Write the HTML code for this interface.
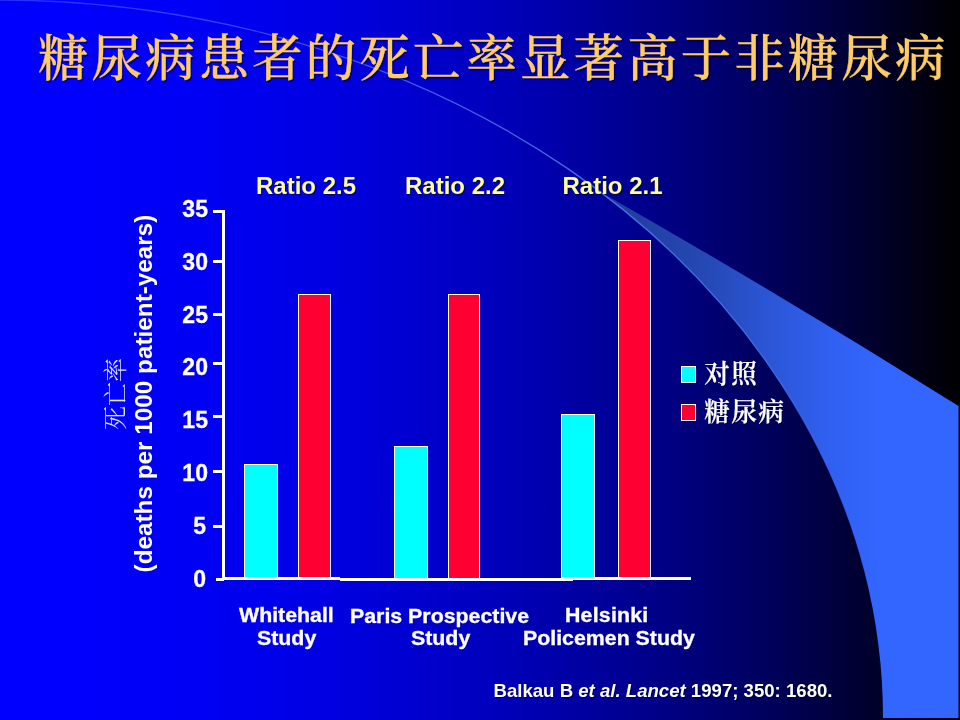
<!DOCTYPE html>
<html lang="zh">
<head>
<meta charset="utf-8">
<title>糖尿病患者的死亡率显著高于非糖尿病</title>
<style>
html,body{margin:0;padding:0;}
body{width:960px;height:720px;overflow:hidden;position:relative;background:#000;
  font-family:"Liberation Sans","Noto Sans CJK SC",sans-serif;}
#slide{position:absolute;left:0;top:0;width:960px;height:720px;overflow:hidden;
  background:linear-gradient(to right,rgb(0,0,255) 0.0%,rgb(0,0,255) 2.5%,rgb(0,0,254) 5.0%,rgb(0,0,254) 7.5%,rgb(0,0,252) 10.0%,rgb(0,0,251) 12.5%,rgb(0,0,249) 15.0%,rgb(0,0,247) 17.5%,rgb(0,0,245) 20.0%,rgb(0,0,242) 22.5%,rgb(0,0,239) 25.0%,rgb(0,0,236) 27.5%,rgb(0,0,232) 30.0%,rgb(0,0,228) 32.5%,rgb(0,0,224) 35.0%,rgb(0,0,219) 37.5%,rgb(0,0,214) 40.0%,rgb(0,0,209) 42.5%,rgb(0,0,203) 45.0%,rgb(0,0,197) 47.5%,rgb(0,0,191) 50.0%,rgb(0,0,185) 52.5%,rgb(0,0,178) 55.0%,rgb(0,0,171) 57.5%,rgb(0,0,163) 60.0%,rgb(0,0,155) 62.5%,rgb(0,0,147) 65.0%,rgb(0,0,139) 67.5%,rgb(0,0,130) 70.0%,rgb(0,0,121) 72.5%,rgb(0,0,112) 75.0%,rgb(0,0,102) 77.5%,rgb(0,0,92) 80.0%,rgb(0,0,81) 82.5%,rgb(0,0,71) 85.0%,rgb(0,0,60) 87.5%,rgb(0,0,48) 90.0%,rgb(0,0,37) 92.5%,rgb(0,0,25) 95.0%,rgb(0,0,13) 97.5%,rgb(0,0,0) 100.0%);}
#bg{position:absolute;left:0;top:0;}
.abs{position:absolute;white-space:nowrap;}
.w{font-weight:bold;color:#fff;-webkit-text-stroke:0.3px #fff;}
#title{left:38px;top:21px;width:920px;height:76px;line-height:76px;
  font-family:"Liberation Serif","Noto Serif CJK SC",serif;font-size:50.4px;letter-spacing:3.17px;
  color:#ffcc66;text-shadow:1.5px 1.5px 0 rgba(0,0,0,0.42);font-weight:500;-webkit-text-stroke:0.35px #ffcc66;}
.ratio{font-weight:bold;font-size:24px;color:#ffff99;text-shadow:1px 1px 0 rgba(0,0,0,0.45);line-height:28px;top:172px;}
.tick{font-weight:bold;font-size:24px;color:#fff;line-height:28px;width:60px;text-align:right;left:147.5px;transform-origin:100% 50%;transform:scaleX(0.96);-webkit-text-stroke:0.3px #fff;}
.bar{position:absolute;box-sizing:border-box;border:1px solid #fff;}
.c{background:#00ffff;}
.r{background:#ff0033;}
.leg{font-family:"Liberation Serif","Noto Serif CJK SC",serif;font-size:25.6px;letter-spacing:1.4px;color:#fff;line-height:30px;text-shadow:1px 1px 0 rgba(0,0,0,0.5);font-weight:600;-webkit-text-stroke:0.25px #fff;}
#cite{left:493.5px;top:678.6px;font-weight:bold;font-size:18.6px;color:#fff;text-shadow:1px 1px 0 rgba(0,0,0,0.6);line-height:24px;}
.rot{left:0;top:0;transform-origin:0 0;text-align:center;width:400px;}
</style>
</head>
<body>
<div id="slide">
<svg id="bg" width="960" height="720" viewBox="0 0 960 720">
  <defs>
    <linearGradient id="sw" gradientUnits="userSpaceOnUse" x1="600" y1="0" x2="880" y2="0">
      <stop offset="0" stop-color="#1e3c96"/>
      <stop offset="0.357" stop-color="#2447b2"/>
      <stop offset="0.643" stop-color="#2c58db"/>
      <stop offset="0.82" stop-color="#3060f0"/>
      <stop offset="1" stop-color="#3366ff"/>
    </linearGradient>
    <linearGradient id="ln" gradientUnits="userSpaceOnUse" x1="0" y1="0" x2="870" y2="0">
      <stop offset="0" stop-color="#7494ff" stop-opacity="0.3"/>
      <stop offset="0.35" stop-color="#7494ff" stop-opacity="0.5"/>
      <stop offset="0.7" stop-color="#5078e6" stop-opacity="0.9"/>
      <stop offset="0.9" stop-color="#4a78f8" stop-opacity="0.8"/>
      <stop offset="1" stop-color="#3366ff" stop-opacity="0"/>
    </linearGradient>
  </defs>
  <path d="M600,191.7 A885,718 0 0 1 883,718 L958.5,718 L958.5,406 Q779.25,293.8 600,191.7 Z" fill="url(#sw)"/>
  <path d="M-2,0 A885,718 0 0 1 870,595.4" fill="none" stroke="url(#ln)" stroke-width="1.3"/>
</svg>

<div id="title" class="abs">糖尿病患者的死亡率显著高于非糖尿病</div>

<div class="abs ratio" style="left:256px;">Ratio 2.5</div>
<div class="abs ratio" style="left:405px;">Ratio 2.2</div>
<div class="abs ratio" style="left:562.5px;">Ratio 2.1</div>

<div class="abs tick" style="top:195.08px;">35</div>
<div class="abs tick" style="top:247.88px;">30</div>
<div class="abs tick" style="top:300.68px;">25</div>
<div class="abs tick" style="top:353.48px;">20</div>
<div class="abs tick" style="top:406.28px;">15</div>
<div class="abs tick" style="top:459.08px;">10</div>
<div class="abs tick" style="top:511.88px;margin-left:-1.5px;">5</div>
<div class="abs tick" style="top:564.68px;margin-left:-1.5px;">0</div>

<svg class="abs" style="left:0;top:0;" width="960" height="720" viewBox="0 0 960 720" shape-rendering="crispEdges">
  <g fill="#fff">
    <rect x="222" y="210" width="3" height="370"/>
    <rect x="213" y="210" width="9" height="3"/>
    <rect x="213" y="260" width="9" height="3"/>
    <rect x="213" y="313" width="9" height="3"/>
    <rect x="213" y="362" width="9" height="3"/>
    <rect x="213" y="415" width="9" height="3"/>
    <rect x="213" y="470" width="9" height="3"/>
    <rect x="213" y="525" width="9" height="3"/>
    <rect x="216" y="578" width="8" height="3"/>
    <rect x="222" y="577" width="118" height="3"/>
    <rect x="340" y="578" width="233" height="3"/>
    <rect x="573" y="577" width="118" height="3"/>
  </g>
</svg>

<div class="bar c" style="left:244px;top:464px;width:34px;height:114px;"></div>
<div class="bar r" style="left:298px;top:294px;width:33px;height:284px;"></div>
<div class="bar c" style="left:394px;top:446px;width:34px;height:133px;"></div>
<div class="bar r" style="left:448px;top:294px;width:32px;height:285px;"></div>
<div class="bar c" style="left:561px;top:414px;width:34px;height:164px;"></div>
<div class="bar r" style="left:618px;top:240px;width:33px;height:338px;"></div>

<div class="abs w" style="left:239.30px;top:603.07px;font-size:20px;line-height:24px;transform-origin:0 0;transform:scaleX(1.0665);">Whitehall</div>
<div class="abs w" style="left:256.60px;top:626.07px;font-size:20px;line-height:24px;transform-origin:0 0;transform:scaleX(1.0665);">Study</div>
<div class="abs w" style="left:350.30px;top:603.57px;font-size:20px;line-height:24px;transform-origin:0 0;transform:scaleX(1.0665);">Paris Prospective</div>
<div class="abs w" style="left:411.00px;top:626.47px;font-size:20px;line-height:24px;transform-origin:0 0;transform:scaleX(1.0665);">Study</div>
<div class="abs w" style="left:565.00px;top:602.87px;font-size:20px;line-height:24px;transform-origin:0 0;transform:scaleX(1.0665);letter-spacing:0.2px;">Helsinki</div>
<div class="abs w" style="left:522.80px;top:626.07px;font-size:20px;line-height:24px;transform-origin:0 0;transform:scaleX(1.0665);">Policemen Study</div>

<div class="bar c" style="left:681px;top:366px;width:15px;height:17px;"></div>
<div class="bar r" style="left:681px;top:404px;width:15px;height:17px;"></div>
<div class="abs leg" style="left:704.2px;top:360.2px;">对照</div>
<div class="abs leg" style="left:704.2px;top:397.5px;">糖尿病</div>

<div class="abs rot" style="transform:translate(100.3px,594px) rotate(-90deg);font-family:'Liberation Serif','Noto Serif CJK SC',serif;font-size:24px;line-height:32px;color:#e4e8ff;font-weight:300;">死亡率</div>
<div class="abs rot" style="transform:translate(129px,593.5px) rotate(-90deg);font-weight:bold;font-size:24.3px;line-height:30px;color:#fff;">(deaths per 1000 patient-years)</div>

<div id="cite" class="abs">Balkau B <i>et al. Lancet</i> 1997; 350: 1680.</div>
</div>
</body>
</html>
